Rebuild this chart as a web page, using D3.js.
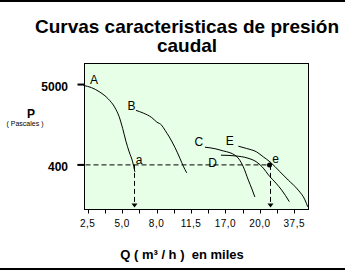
<!DOCTYPE html>
<html lang="es">
  <head>
    <meta charset="utf-8">
    <script src="https://cdn.jsdelivr.net/npm/d3@7/dist/d3.min.js"></script>
    <style>
      body { margin: 0; background: #fff; }
      svg { display: block; font-family: "Liberation Sans", Arial, sans-serif; }
      text { white-space: pre; }
    </style>
  </head>
  <body>
    <svg id="chart" width="345" height="270"></svg>
    <script>

      // eje Q: 13 marcas, etiqueta cada dos
      var qLabels = ["2,5", "5,0", "8,0", "11,5", "17,0", "20,0", "37,5"],
          qTickCount = 13,
          pTicks = [5000, 400];

      // curvas: [posicion en el eje Q, presion en Pascales]
      var curvaA = [[-0.24, 4860], [0.23, 4530], [0.71, 3940], [1.19, 3190], [1.59, 2400], [1.82, 1840],
                    [2.03, 1260], [2.22, 842], [2.41, 602], [2.61, 440], [2.74, 322]],
          curvaB = [[2.80, 2220], [3.23, 2040], [3.72, 1770], [4.01, 1540], [4.30, 1390], [4.49, 1190],
                    [4.74, 963], [5.07, 690], [5.36, 490], [5.55, 385], [5.75, 312]],
          curvaC = [[6.81, 698], [7.39, 666], [7.87, 621], [8.26, 587], [8.55, 543], [8.79, 479],
                    [9.04, 376], [9.33, 248], [9.54, 187], [9.71, 146]],
          curvaD = [[7.74, 543], [8.56, 531], [9.31, 494], [9.78, 443], [10.12, 379], [10.58, 277],
                    [10.93, 226], [11.27, 181], [11.71, 126]],
          curvaE = [[8.75, 720], [9.23, 670], [9.81, 602], [10.20, 515], [10.59, 440], [11.17, 322],
                    [11.65, 248], [12.23, 181], [12.62, 133], [12.78, 107]];

      var curveNames = ["A", "B", "C", "D", "E"],
          curveLabelPos = [[0.37, 5780], [2.54, 2600], [6.46, 842], [7.25, 423], [8.25, 855]];

      // puntos de trabajo a y e sobre la linea de 400 Pa
      var pointNames = ["a", "e"],
          pointQ = [2.68, 10.56],
          pointP = [400, 400],
          pointLabelPos = [[2.98, 464], [10.91, 479]];

      var svg = d3.select("#chart");

      var x = d3.scaleLinear()
            .domain([0, qTickCount - 1])
            .range([87.7, 294.3]),
          y = d3.scaleLog()
            .domain([100, 10000])
            .range([209, 62.5]);

      var plotLeft = Math.round(x(-0.24)) + 0.5,
          plotRight = Math.round(x(12.78)) + 0.5,
          plotTop = Math.round(y(10000)) + 0.5,
          plotBottom = Math.round(y(100)) + 0.5;

      // bordes negros de la imagen
      svg.append("rect").attr("x", 0).attr("y", 0).attr("width", 345).attr("height", 2).attr("fill", "#000");
      svg.append("rect").attr("x", 0).attr("y", 268).attr("width", 345).attr("height", 2).attr("fill", "#000");

      svg.append("text")
        .attr("x", 187).attr("y", 33)
        .attr("text-anchor", "middle")
        .attr("font-size", 19).attr("font-weight", "bold")
        .text("Curvas caracteristicas de presión");
      svg.append("text")
        .attr("x", 187).attr("y", 52)
        .attr("text-anchor", "middle")
        .attr("font-size", 19).attr("font-weight", "bold")
        .text("caudal");

      svg.append("rect")
        .attr("x", plotLeft).attr("y", plotTop)
        .attr("width", plotRight - plotLeft).attr("height", plotBottom - plotTop)
        .attr("fill", "#e6ffe6")
        .attr("stroke", "#000");

      // eje X
      var qTicks = d3.range(qTickCount);
      svg.append("g")
        .selectAll("line")
        .data(qTicks)
        .join("line")
          .attr("x1", function(d) { return Math.round(x(d)) + 0.5; })
          .attr("x2", function(d) { return Math.round(x(d)) + 0.5; })
          .attr("y1", plotBottom).attr("y2", plotBottom + 4)
          .attr("stroke", "#000");
      svg.append("g")
        .selectAll("text")
        .data(qLabels)
        .join("text")
          .attr("x", function(d, i) { return x(i * 2); })
          .attr("y", 227)
          .attr("text-anchor", "middle")
          .attr("font-size", 10)
          .attr("letter-spacing", 0.5)
          .text(function(d) { return d; });
      svg.append("text")
        .attr("x", 182).attr("y", 259)
        .attr("text-anchor", "middle")
        .attr("font-size", 13).attr("font-weight", "bold")
        .text("Q ( m³ / h )  en miles");

      // eje P
      svg.append("g")
        .selectAll("line")
        .data(pTicks)
        .join("line")
          .attr("x1", plotLeft - 7).attr("x2", plotLeft)
          .attr("y1", function(d) { return y(d); })
          .attr("y2", function(d) { return y(d); })
          .attr("stroke", "#000").attr("stroke-width", 2);
      svg.append("g")
        .selectAll("text")
        .data(pTicks)
        .join("text")
          .attr("x", 68)
          .attr("y", function(d) { return y(d) + 6; })
          .attr("text-anchor", "end")
          .attr("font-size", 12).attr("font-weight", "bold")
          .text(function(d) { return d; });
      svg.append("text")
        .attr("x", 31).attr("y", 117.5)
        .attr("text-anchor", "middle")
        .attr("font-size", 12).attr("font-weight", "bold")
        .text("P");
      svg.append("text")
        .attr("x", 25).attr("y", 125.5)
        .attr("text-anchor", "middle")
        .attr("font-size", 7)
        .text("( Pascales )");

      // lineas de trabajo
      var dash = "5,3";
      svg.append("line")
        .attr("x1", plotLeft - 7).attr("x2", x(pointQ[1]))
        .attr("y1", y(400)).attr("y2", y(400))
        .attr("stroke", "#000").attr("stroke-dasharray", dash);
      pointQ.forEach(function(q, i) {
        var px = Math.round(x(q)) + 0.5;
        svg.append("line")
          .attr("x1", px).attr("x2", px)
          .attr("y1", y(pointP[i])).attr("y2", plotBottom - 5)
          .attr("stroke", "#000").attr("stroke-dasharray", dash);
        svg.append("path")
          .attr("d", "M" + (px - 3) + "," + (plotBottom - 6) + "L" + (px + 3) + "," + (plotBottom - 6) +
                "L" + px + "," + (plotBottom - 2) + "Z")
          .attr("fill", "#000");
      });

      var line = d3.line()
        .x(function(d) { return x(d[0]); })
        .y(function(d) { return y(d[1]); })
        .curve(d3.curveMonotoneX);

      svg.append("g")
        .selectAll("path")
        .data([curvaA, curvaB, curvaC, curvaD, curvaE])
        .join("path")
          .attr("d", line)
          .attr("fill", "none")
          .attr("stroke", "#000")
          .attr("stroke-width", 1);

      svg.append("g")
        .selectAll("text")
        .data(curveNames)
        .join("text")
          .attr("x", function(d, i) { return x(curveLabelPos[i][0]); })
          .attr("y", function(d, i) { return y(curveLabelPos[i][1]); })
          .attr("dy", "0.36em")
          .attr("text-anchor", "middle")
          .attr("font-size", 12)
          .text(function(d) { return d; });

      // punto e marcado
      svg.append("circle")
        .attr("cx", x(pointQ[1])).attr("cy", y(pointP[1]))
        .attr("r", 2.5)
        .attr("fill", "#000");

      svg.append("g")
        .selectAll("text")
        .data(pointNames)
        .join("text")
          .attr("x", function(d, i) { return x(pointLabelPos[i][0]); })
          .attr("y", function(d, i) { return y(pointLabelPos[i][1]); })
          .attr("dy", "0.36em")
          .attr("text-anchor", "middle")
          .attr("font-size", 12)
          .text(function(d) { return d; });

    </script>
  </body>
</html>
